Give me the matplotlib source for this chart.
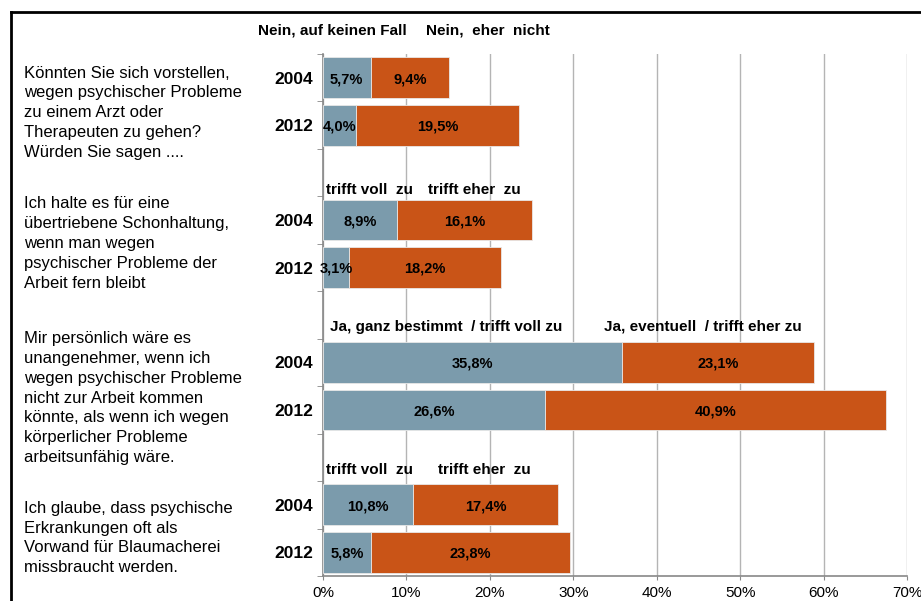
import numpy as np
import matplotlib
matplotlib.use("Agg")
import matplotlib.pyplot as plt
from matplotlib.lines import Line2D
from matplotlib.transforms import blended_transform_factory

plt.rcParams['font.family'] = ['Liberation Sans', 'DejaVu Sans']

# Data
questions = [
    "Könnten Sie sich vorstellen,\nwegen psychischer Probleme\nzu einem Arzt oder\nTherapeuten zu gehen?\nWürden Sie sagen ....",
    "Ich halte es für eine\nübertriebene Schonhaltung,\nwenn man wegen\npsychischer Probleme der\nArbeit fern bleibt",
    "Mir persönlich wäre es\nunangenehmer, wenn ich\nwegen psychischer Probleme\nnicht zur Arbeit kommen\nkönnte, als wenn ich wegen\nkörperlicher Probleme\narbeitsunfähig wäre.",
    "Ich glaube, dass psychische\nErkrankungen oft als\nVorwand für Blaumacherei\nmissbraucht werden.",
]
years = ["2004", "2012"]
strong = [5.7, 4.0, 8.9, 3.1, 35.8, 26.6, 10.8, 5.8]
weak = [9.4, 19.5, 16.1, 18.2, 23.1, 40.9, 17.4, 23.8]
headers = [
    ("Nein, auf keinen Fall", "Nein,  eher  nicht"),
    ("trifft voll  zu", "trifft eher  zu"),
    ("Ja, ganz bestimmt  / trifft voll zu", "Ja, eventuell  / trifft eher zu"),
    ("trifft voll  zu", "trifft eher  zu"),
]

# Layout: 11 slots, bars in slots 0,1 / 3,4 / 6,7 / 9,10
rows = [0, 1, 3, 4, 6, 7, 9, 10]
q_centers = [0.74, 3.49, 6.75, 9.7]
head_x = [(258, 426), (326, 428), (330, 604), (326, 438)]
head_y = [-1.0, 2.37, 5.25, 8.27]

c_blue = '#7B9BAC'
c_orange = '#C95417'

W, H = 921, 601
fig = plt.figure(figsize=(W / 100, H / 100), dpi=100)
ax = fig.add_axes([323 / W, 1 - 576 / H, (907 - 323) / W, (576 - 54) / H])

ax.barh(rows, strong, height=0.86, color=c_blue, edgecolor='#E8E8E8', linewidth=0.6, zorder=3)
ax.barh(rows, weak, left=strong, height=0.86, color=c_orange, edgecolor='#E8E8E8', linewidth=0.6, zorder=3)

for r, s, w in zip(rows, strong, weak):
    ax.text(s / 2, r + 0.03, f"{s:.1f}%".replace('.', ','), ha='center', va='center',
            fontsize=10.5, fontweight='bold', zorder=4)
    ax.text(s + w / 2, r + 0.03, f"{w:.1f}%".replace('.', ','), ha='center', va='center',
            fontsize=10.5, fontweight='bold', zorder=4)

ax.set_xlim(0, 70)
ax.set_ylim(10.5, -0.5)
ax.set_xticks(np.arange(0, 71, 10))
ax.set_xticklabels([f"{v}%" for v in range(0, 71, 10)], fontsize=11)
ax.tick_params(axis='x', length=3, color='#888888', pad=4)
ax.xaxis.grid(True, color='#B4B4B4', linewidth=1)
ax.set_axisbelow(True)

ax.set_yticks(rows)
ax.set_yticklabels(years * 4, fontsize=12.5, fontweight='bold')
ax.tick_params(axis='y', length=0, pad=7)
ax.set_yticks(np.arange(-0.5, 11, 1), minor=True)
ax.tick_params(axis='y', which='minor', length=4, color='#888888')

for sp in ['top', 'right']:
    ax.spines[sp].set_visible(False)
for sp in ['left', 'bottom']:
    ax.spines[sp].set_color('#888888')
    ax.spines[sp].set_linewidth(1.2)

trans = blended_transform_factory(fig.transFigure, ax.transData)
for q, yc in zip(questions, q_centers):
    ax.text(24 / W, yc, q, transform=trans, ha='left', va='center',
            fontsize=12, linespacing=1.41)

for (a, b), (xa, xb), yh in zip(headers, head_x, head_y):
    ax.text(xa / W, yh, a, transform=trans, ha='left', va='center',
            fontsize=11, fontweight='bold', clip_on=False)
    ax.text(xb / W, yh, b, transform=trans, ha='left', va='center',
            fontsize=11, fontweight='bold', clip_on=False)

# outer frame (top and left edges)
fig.add_artist(Line2D([11 / W, 1], [1 - 12 / H, 1 - 12 / H], color='black', linewidth=2,
                      transform=fig.transFigure))
fig.add_artist(Line2D([11 / W, 11 / W], [0, 1 - 12 / H], color='black', linewidth=2,
                      transform=fig.transFigure))

fig.savefig("out.png", dpi=100)
